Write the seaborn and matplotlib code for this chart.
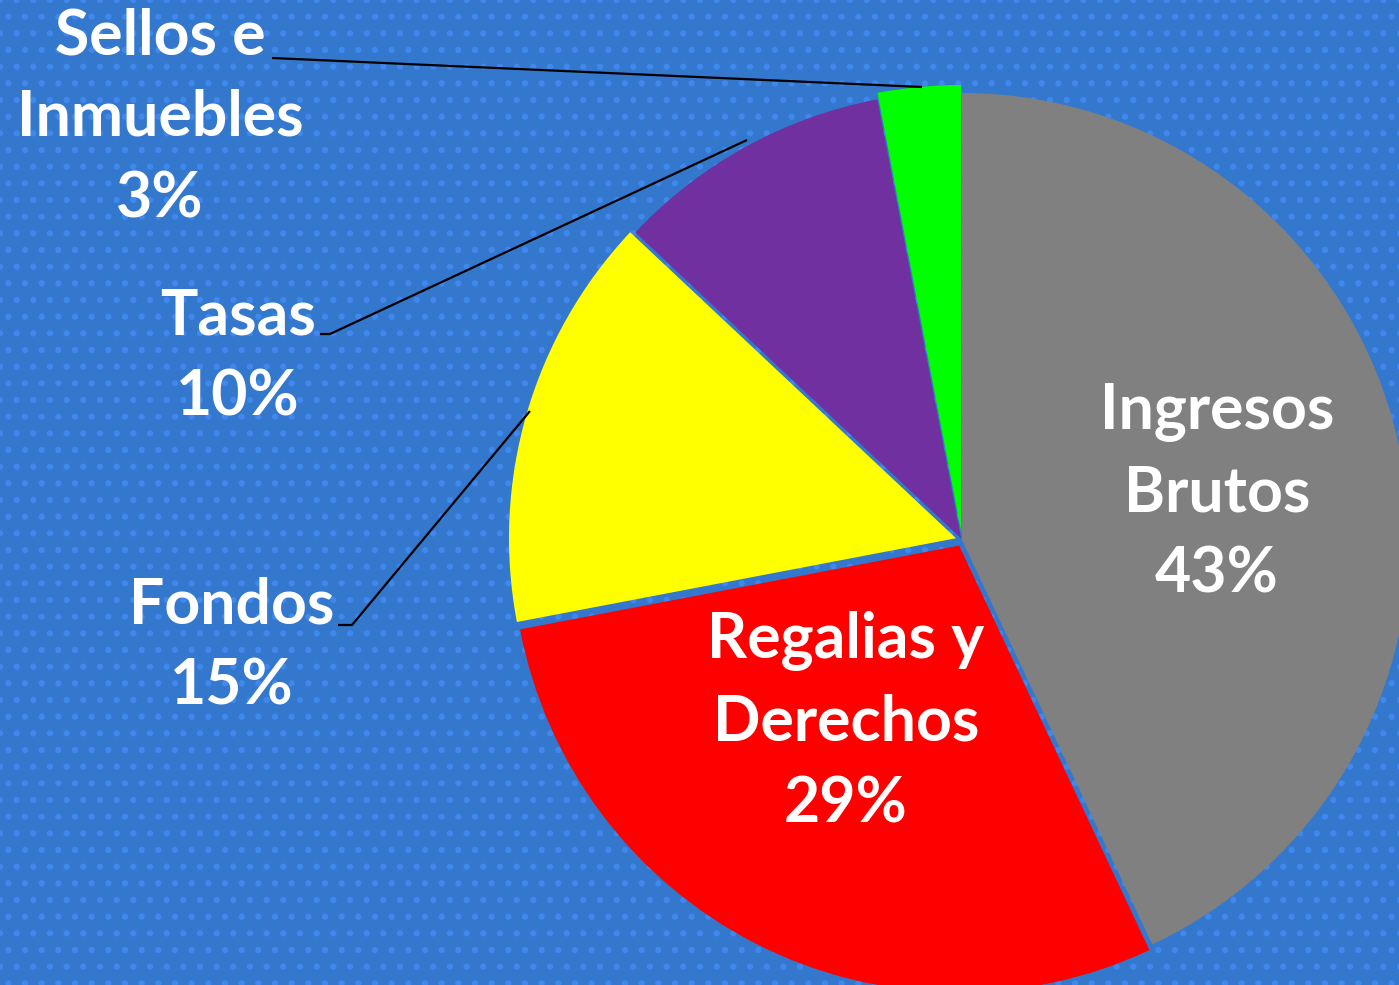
"""Pie chart of provincial revenue sources."""
import matplotlib.pyplot as plt
import seaborn as sns
from matplotlib.patches import Rectangle

CATEGORIES = ["Ingresos\nBrutos", "Regalias y\nDerechos", "Fondos", "Tasas", "Sellos e\nInmuebles"]
SHARES = [43, 29, 15, 10, 3]
COLORS = ["#808080", "#FF0000", "#FFFF00", "#7030A0", "#00FF00"]
EXPLODE = [0, 0.014, 0.014, 0.004, 0.018]

BG = "#3478CE"
DOT = "#3F88EE"

W, H = 1399, 985


def main():
    sns.set_theme(style="white")
    plt.rcParams["font.family"] = ["Lato", "DejaVu Sans"]
    plt.rcParams["hatch.linewidth"] = 2.0

    fig = plt.figure(figsize=(W / 100, H / 100), dpi=100)
    fig.patch.set_facecolor(BG)
    fig.patches.append(Rectangle((0, 0), 1, 1, transform=fig.transFigure,
                                 facecolor=BG, edgecolor=DOT, hatch=".",
                                 linewidth=0, zorder=-10))

    ax = fig.add_axes([0, 0, 1, 1])
    ax.set_zorder(5)
    ax.set_facecolor("none")
    cx, cy, r = 962, H - 540, 447
    # pie's explode offset is in data units, so scale by the radius
    ax.pie(SHARES, colors=COLORS, explode=[e * r for e in EXPLODE],
           startangle=90, counterclock=False, center=(cx, cy), radius=r,
           wedgeprops={"linewidth": 0})
    ax.set_xlim(0, W)
    ax.set_ylim(0, H)
    ax.set_aspect("equal")
    ax.axis("off")

    def px(x, y):
        return x, H - y

    txt = dict(color="white", fontsize=45, fontweight="bold", ha="center",
               va="center", linespacing=1.5)
    label_pos = [(1217, 493), (846, 722), (232, 646), (238, 357), (160, 118)]
    for name, share, (x, y) in zip(CATEGORIES, SHARES, label_pos):
        ax.text(*px(x, y), f"{name}\n{share}%", **txt)

    leaders = [
        [(272, 58), (922, 87)],
        [(320, 334), (330, 334), (747, 140)],
        [(338, 625), (352, 625), (530, 411)],
    ]
    for pts in leaders:
        xs = [p[0] for p in pts]
        ys = [H - p[1] for p in pts]
        ax.plot(xs, ys, color="black", lw=1.6, solid_capstyle="butt")

    fig.savefig("out.png", dpi=100, facecolor=BG)
    plt.close(fig)


if __name__ == "__main__":
    main()
